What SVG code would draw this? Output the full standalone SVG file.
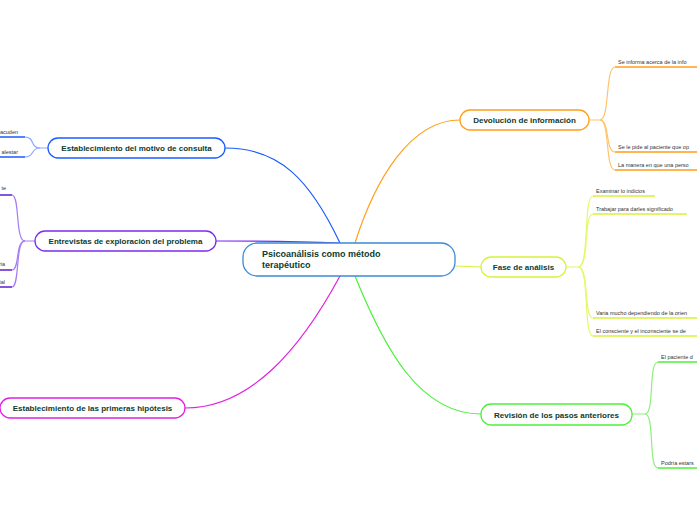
<svg xmlns="http://www.w3.org/2000/svg" width="697" height="520" viewBox="0 0 697 520">
<style>
.n{fill:#fff;stroke-width:1.3}
.t{font-family:"Liberation Sans",Arial,sans-serif;font-weight:bold;font-size:8px;fill:#0d3b2e}
.l{font-family:"Liberation Sans",Arial,sans-serif;font-size:5.5px;fill:#333}
.c{fill:none;stroke-width:1.2}
.u{fill:none;stroke-width:1.5}
</style>
<rect width="697" height="520" fill="#fff"/>
<g id="connectors">
<path class="c" stroke="#ff9f1a" d="M355 243 C375 180 410 120 460 120"/>
<path class="c" stroke="#d8f23a" d="M455 266 L481 267"/>
<path class="c" stroke="#4cf03a" d="M355 276 C385 350 420 414 481 414"/>
<path class="c" stroke="#1a5cff" d="M340 243 C310 180 280 148 225 148"/>
<path class="c" stroke="#7b2cf0" d="M340 243 C290 241 250 241 216 241"/>
<path class="c" stroke="#e020e0" d="M340 276 C300 350 250 408 185 408"/>
<g stroke="#ffc46a" class="c">
<path d="M589 120 H600 C610 120 605 67 615 67"/><path d="M600 120 C610 120 605 152 615 152"/><path d="M600 120 C610 120 605 170 615 170"/>
</g>
<g stroke="#e6f86a" class="c">
<path d="M566 267 H578 C590 267 583 196 593 196"/><path d="M578 267 C590 267 583 214 593 214"/><path d="M578 267 C590 267 583 318 593 318"/><path d="M578 267 C590 267 583 336 593 336"/>
</g>
<g stroke="#8cf07a" class="c">
<path d="M632 414 H645 C655 414 648 362 658 362"/><path d="M645 414 C655 414 648 468 658 468"/>
</g>
<g stroke="#8aa8ff" class="c"><path d="M48 148 H40 C30 148 35 137 25 137"/><path d="M40 148 C30 148 35 157 25 157"/></g>
<g stroke="#a77cf5" class="c"><path d="M35 241 H25 C15 241 20 195 12 195"/><path d="M25 241 C15 241 20 270 12 270"/><path d="M25 241 C15 241 20 287 12 287"/></g>
<g class="u">
<path stroke="#ff9f1a" d="M615 67 H697 M615 152 H697 M615 170 H697"/>
<path stroke="#d8f23a" d="M593 196 H655 M593 214 H687 M593 318 H697 M593 336 H697"/>
<path stroke="#4cf03a" d="M658 362 H697 M658 468 H697"/>
<path stroke="#1a5cff" d="M0 137 H25 M0 157 H25"/>
<path stroke="#5b1ed0" d="M0 195 H12 M0 270 H12 M0 287 H12"/>
</g>
</g>
<g id="center"><rect class="n" stroke="#3a8ad8" x="243" y="243" width="212" height="33" rx="14"/><text class="t" x="262" y="257" style="font-size:9px">Psicoanálisis como método</text><text class="t" x="262" y="268" style="font-size:9px">terapéutico</text></g>
<g id="devolucion"><rect class="n" stroke="#ff9f1a" x="460" y="110" width="129" height="20" rx="10"/><text class="t" x="524.5" y="123" text-anchor="middle">Devolución de información</text></g>
<g id="fase"><rect class="n" stroke="#d8f23a" x="481" y="257" width="85" height="20" rx="10"/><text class="t" x="523.5" y="270" text-anchor="middle">Fase de análisis</text></g>
<g id="revision"><rect class="n" stroke="#4cf03a" x="481" y="404" width="151" height="21" rx="10"/><text class="t" x="556.5" y="417.5" text-anchor="middle">Revisión de los pasos anteriores</text></g>
<g id="motivo"><rect class="n" stroke="#1a5cff" x="48" y="138" width="177" height="20" rx="10"/><text class="t" x="136.5" y="151" text-anchor="middle">Establecimiento del motivo de consulta</text></g>
<g id="entrevistas"><rect class="n" stroke="#7b2cf0" x="35" y="231" width="181" height="20" rx="10"/><text class="t" x="125.5" y="244" text-anchor="middle">Entrevistas de exploración del problema</text></g>
<g id="hipotesis"><rect class="n" stroke="#e020e0" x="0" y="398" width="185" height="20" rx="10"/><text class="t" x="92.5" y="411" text-anchor="middle">Establecimiento de las primeras hipótesis</text></g>
<g id="leaves">
<text class="l" x="618" y="64">Se informa acerca de la info</text>
<text class="l" x="618" y="149">Se le pide al paciente que op</text>
<text class="l" x="618" y="167">La manera en que una perso</text>
<text class="l" x="596" y="193">Examinar lo indicios</text>
<text class="l" x="596" y="211">Trabajar para darles significado</text>
<text class="l" x="596" y="315">Varia mucho dependiendo de la orien</text>
<text class="l" x="596" y="333">El consciente y el inconsciente se de</text>
<text class="l" x="661" y="359">El paciente d</text>
<text class="l" x="661" y="465">Podría estars</text>
<text class="l" x="18" y="134" text-anchor="end">acuden</text>
<text class="l" x="18" y="154" text-anchor="end">alestar</text>
<text class="l" x="6" y="190" text-anchor="end">te</text>
<text class="l" x="5" y="266" text-anchor="end">ria</text>
<text class="l" x="5" y="284" text-anchor="end">ial</text>
</g>
</svg>
